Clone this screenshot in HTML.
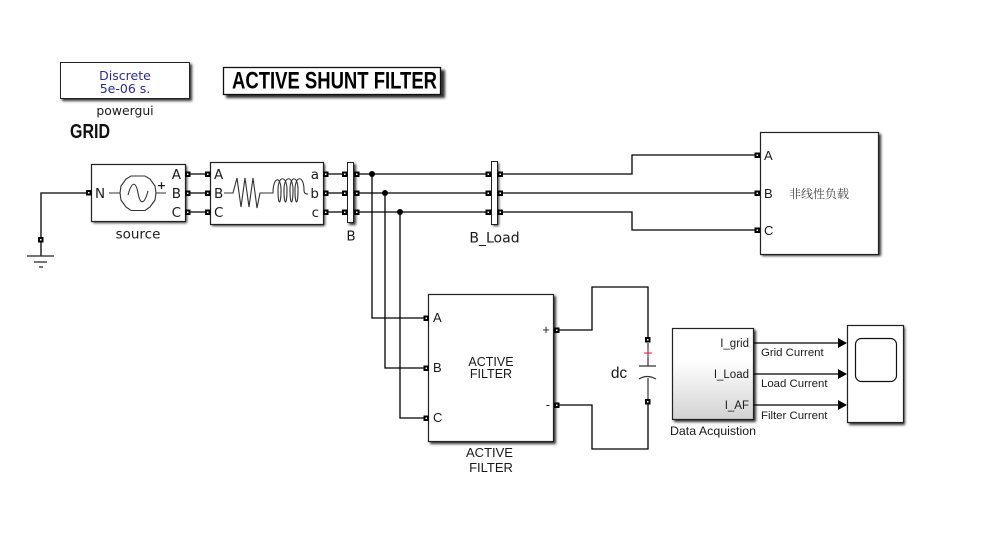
<!DOCTYPE html>
<html><head><meta charset="utf-8"><style>
html,body{margin:0;padding:0;background:#fff;width:985px;height:552px;overflow:hidden}
svg{display:block;filter:blur(0.3px)}
text{font-family:"Liberation Sans","Noto Sans CJK SC",sans-serif;fill:#1a1a1a}
.d{font-family:"DejaVu Sans",sans-serif}
</style></head><body>
<svg width="985" height="552" viewBox="0 0 985 552" xmlns="http://www.w3.org/2000/svg">
<defs>
<filter id="s" x="-10%" y="-10%" width="125%" height="125%"><feGaussianBlur stdDeviation="1.3"/></filter>
<linearGradient id="g" x1="0" y1="0" x2="0" y2="1"><stop offset="0.35" stop-color="#fff"/><stop offset="1" stop-color="#d2d2d2"/></linearGradient>
</defs>
<!-- shadows -->
<g fill="#333" filter="url(#s)">
<rect x="62" y="64" width="130" height="37"/>
<rect x="226" y="70" width="219" height="28"/>
<rect x="93" y="166" width="94" height="57"/>
<rect x="212" y="164" width="113" height="62"/>
<rect x="349" y="164" width="7" height="61"/>
<rect x="493" y="163" width="6" height="63"/>
<rect x="762" y="134" width="119" height="122"/>
<rect x="430" y="296" width="126" height="148"/>
<rect x="674" y="330" width="82" height="92"/>
<rect x="849" y="327" width="56" height="98"/>
</g>
<!-- wires -->
<g fill="none" stroke="#000" stroke-width="1.3">
<path d="M88 193H41V240"/>
<path d="M185 174H210M185 193H210M185 212H210"/>
<path d="M323 174H347M323 193H347M323 212H347"/>
<path d="M354 174H491M354 193H491M354 212H491"/>
<path d="M497 174H632V155H757"/>
<path d="M497 193H757"/>
<path d="M497 212H632V230H757"/>
<path d="M372 174V318H426"/>
<path d="M385 193V368H426"/>
<path d="M400 212V418H426"/>
<path d="M556 330H592V287H648V340"/>
<path d="M556 405H592V449H648V402"/>
<path d="M754 343H838M754 374H838M754 405H838"/>
<path d="M41 240V256"/>
</g>
<g fill="#000">
<circle cx="372" cy="174" r="3"/><circle cx="385" cy="193" r="3"/><circle cx="400" cy="212" r="3"/>
<path d="M838 338L847 343L838 348ZM838 369L847 374L838 379ZM838 400L847 405L838 410Z"/>
</g>
<!-- ground -->
<path d="M27 256H54M34 262H47M39 267H43" stroke="#222" stroke-width="1.3" fill="none"/>
<!-- powergui -->
<rect x="60.500" y="62.500" width="129" height="36" fill="#fff" stroke="#222"/>
<text class="d" x="125" y="80" font-size="12.500" text-anchor="middle" style="fill:#2a2a9a">Discrete</text>
<text class="d" x="125" y="93" font-size="12.500" text-anchor="middle" style="fill:#2a2a9a">5e-06 s.</text>
<text class="d" x="125" y="115" font-size="12.400" text-anchor="middle">powergui</text>
<!-- title -->
<rect x="223.500" y="67.500" width="217" height="27" fill="#fff" stroke="#111" stroke-width="1.300"/>
<text x="232" y="88.500" font-size="24" font-weight="bold" textLength="205" lengthAdjust="spacingAndGlyphs" style="fill:#000">ACTIVE SHUNT FILTER</text>
<text x="70" y="138" font-size="20" font-weight="bold" textLength="40" lengthAdjust="spacingAndGlyphs" style="fill:#111">GRID</text>
<!-- source -->
<rect x="91.500" y="164.500" width="94" height="57" fill="#fff" stroke="#222" stroke-width="1.200"/>
<text class="d" x="95" y="198" font-size="13.500">N</text>
<text class="d" x="181" y="179" font-size="13.500" text-anchor="end">A</text>
<text class="d" x="181" y="198" font-size="13.500" text-anchor="end">B</text>
<text class="d" x="181" y="217" font-size="13.500" text-anchor="end">C</text>
<text class="d" x="161.500" y="189" font-size="11" text-anchor="middle" font-weight="bold">+</text>
<path d="M109 193H120M156 193H166" stroke="#333" fill="none" stroke-width="1.100"/>
<polygon points="131,176 145,176 150,179 155,186 156,193 155,200 150,207 145,210.500 131,210.500 126,207 121,200 120,193 121,186 126,179" fill="#fff" stroke="#333" stroke-width="1.100"/>
<path d="M128 195C132 180 136 182 138 193S144 206 148 191" fill="none" stroke="#333" stroke-width="1.100"/>
<text class="d" x="138" y="238.500" font-size="13.500" text-anchor="middle">source</text>
<!-- RL -->
<rect x="210.500" y="162.500" width="113" height="62" fill="#fff" stroke="#222" stroke-width="1.200"/>
<text class="d" x="214" y="179" font-size="13.500">A</text>
<text class="d" x="214" y="198" font-size="13.500">B</text>
<text class="d" x="214" y="217" font-size="13.500">C</text>
<text class="d" x="319" y="179" font-size="13.500" text-anchor="end">a</text>
<text class="d" x="319" y="198" font-size="13.500" text-anchor="end">b</text>
<text class="d" x="319" y="217" font-size="13.500" text-anchor="end">c</text>
<path d="M224 193H233L237 178L241 207L245 178L249 207L253 178L257 208L260 193H273C273 176 281 176 281 190C281 206 278 206 278 190C278 175 287 175 287 190C287 206 284 206 284 190C284 175 293 175 293 190C293 206 290 206 290 190C290 175 298 175 298 190C298 206 295 206 295 190C295 175 304 175 304 190C304 193 305 194 308 194" fill="none" stroke="#333" stroke-width="1.100"/>
<!-- buses -->
<rect x="347.500" y="162.500" width="6" height="60" fill="#fff" stroke="#222"/>
<text class="d" x="351" y="240.500" font-size="13.500" text-anchor="middle">B</text>
<rect x="491.500" y="161.500" width="6" height="63" fill="#fff" stroke="#222"/>
<text class="d" x="494.500" y="242.500" font-size="14" text-anchor="middle">B_Load</text>
<!-- load -->
<rect x="760.500" y="132.500" width="118" height="122" fill="#fff" stroke="#222" stroke-width="1.200"/>
<text x="764" y="160" font-size="13">A</text>
<text x="764" y="198" font-size="13">B</text>
<text x="764" y="235" font-size="13">C</text>
<text x="819" y="198" font-size="12" text-anchor="middle" style="fill:#444;font-family:'Noto Serif CJK SC','Noto Sans CJK SC',serif">非线性负载</text>
<!-- active filter -->
<rect x="428.500" y="294.500" width="125" height="147" fill="#fff" stroke="#222" stroke-width="1.200"/>
<text x="433" y="322" font-size="13">A</text>
<text x="433" y="372" font-size="13">B</text>
<text x="433" y="422" font-size="13">C</text>
<text x="491" y="366" font-size="12.500" text-anchor="middle">ACTIVE</text>
<text x="491" y="378" font-size="12.500" text-anchor="middle">FILTER</text>
<text x="546" y="334" font-size="12.500" text-anchor="middle">+</text>
<text x="548" y="409" font-size="12.500" text-anchor="middle">-</text>
<text x="489.500" y="457" font-size="13" text-anchor="middle">ACTIVE</text>
<text x="491" y="472" font-size="13" text-anchor="middle">FILTER</text>
<!-- capacitor -->
<path d="M648 343V366M639 366H656M648 378V399" stroke="#333" fill="none" stroke-width="1.200"/>
<path d="M639 379Q647 374 656 379" stroke="#333" fill="none" stroke-width="1.200"/>
<path d="M644 353H652M648 349V357" stroke="#d02040" fill="none"/>
<text x="619" y="378" font-size="15.500" text-anchor="middle">dc</text>
<!-- data -->
<rect x="672.500" y="328.500" width="81" height="91" fill="url(#g)" stroke="#222" stroke-width="1.200"/>
<text x="749" y="347" font-size="11.500" text-anchor="end">I_grid</text>
<text x="749" y="378" font-size="11.500" text-anchor="end">I_Load</text>
<text x="749" y="409" font-size="11.500" text-anchor="end">I_AF</text>
<text x="713" y="435" font-size="12.400" text-anchor="middle">Data Acquistion</text>
<text x="761" y="356" font-size="11.400">Grid Current</text>
<text x="761" y="387" font-size="11.400">Load Current</text>
<text x="761" y="419" font-size="11.400">Filter Current</text>
<!-- scope -->
<rect x="847.500" y="325.500" width="56" height="97" fill="#fff" stroke="#222" stroke-width="1.200"/>
<rect x="855.500" y="338.500" width="41" height="43" rx="6" fill="#fff" stroke="#111" stroke-width="1.200"/>
<!-- ports -->
<g fill="#fff" stroke="#000" stroke-width="2">
<rect x="39" y="238" width="3.500" height="3.500"/>
<rect x="87" y="191" width="3.500" height="3.500"/>
<rect x="186" y="172.500" width="3.500" height="3.500"/><rect x="186" y="191.500" width="3.500" height="3.500"/><rect x="186" y="210.500" width="3.500" height="3.500"/>
<rect x="206" y="172.500" width="3.500" height="3.500"/><rect x="206" y="191.500" width="3.500" height="3.500"/><rect x="206" y="210.500" width="3.500" height="3.500"/>
<rect x="324" y="172.500" width="3.500" height="3.500"/><rect x="324" y="191.500" width="3.500" height="3.500"/><rect x="324" y="210.500" width="3.500" height="3.500"/>
<rect x="343" y="172.500" width="3.500" height="3.500"/><rect x="343" y="191.500" width="3.500" height="3.500"/><rect x="343" y="210.500" width="3.500" height="3.500"/>
<rect x="355" y="172.500" width="3.500" height="3.500"/><rect x="355" y="191.500" width="3.500" height="3.500"/><rect x="355" y="210.500" width="3.500" height="3.500"/>
<rect x="486.500" y="172.500" width="3.500" height="3.500"/><rect x="486.500" y="191.500" width="3.500" height="3.500"/><rect x="486.500" y="210.500" width="3.500" height="3.500"/>
<rect x="498.500" y="172.500" width="3.500" height="3.500"/><rect x="498.500" y="191.500" width="3.500" height="3.500"/><rect x="498.500" y="210.500" width="3.500" height="3.500"/>
<rect x="755.500" y="153.500" width="3.500" height="3.500"/><rect x="755.500" y="191.500" width="3.500" height="3.500"/><rect x="755.500" y="228.500" width="3.500" height="3.500"/>
<rect x="424.500" y="316.500" width="3.500" height="3.500"/><rect x="424.500" y="366.500" width="3.500" height="3.500"/><rect x="424.500" y="416.500" width="3.500" height="3.500"/>
<rect x="555" y="328.500" width="3.500" height="3.500"/><rect x="555" y="403.500" width="3.500" height="3.500"/>
<rect x="646" y="338" width="3.500" height="3.500"/><rect x="646" y="400" width="3.500" height="3.500"/>
</g>
</svg>
</body></html>
